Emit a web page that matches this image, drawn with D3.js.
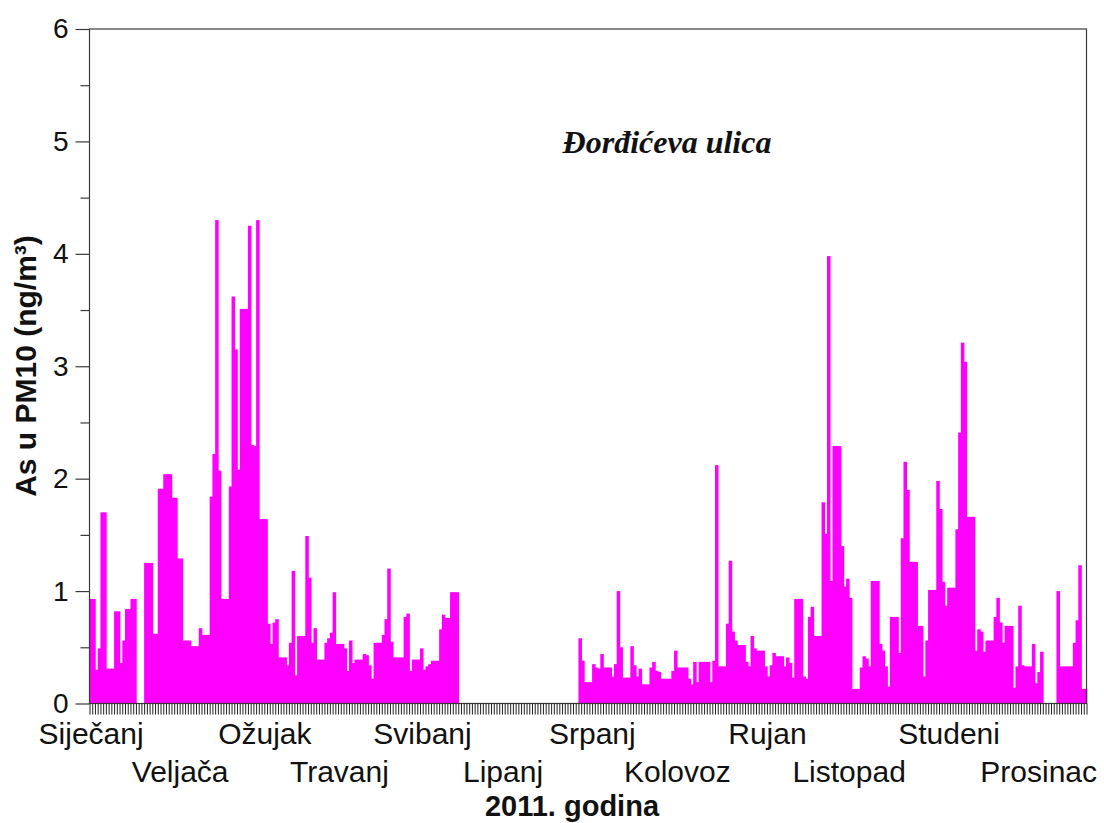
<!DOCTYPE html>
<html><head><meta charset="utf-8">
<script src="https://cdn.jsdelivr.net/npm/d3@7"></script>
<style>body{margin:0;background:#fff}svg{display:block}</style>
</head><body>
<svg id="chart" width="1104" height="823"></svg>
<script>
// Daily As in PM10 (ng/m3), 2011, day index 0..364
const values = [
0.93,0.93,0.30,0.49,1.70,1.70,0.31,0.31,0.31,0.82,
0.82,0.36,0.56,0.84,0.84,0.93,0.93,0,0,0,
1.25,1.25,1.25,0.62,0.62,1.91,1.91,2.04,2.04,2.04,
1.83,1.83,1.29,1.29,0.56,0.56,0.56,0.51,0.51,0.51,
0.67,0.61,0.61,0.61,1.84,2.22,4.30,2.07,0.93,0.93,
0.93,1.93,3.62,3.15,2.08,3.51,3.51,3.51,4.25,2.30,
2.29,4.30,1.64,1.64,1.64,0.71,0.53,0.72,0.75,0.41,
0.41,0.41,0.34,0.54,1.18,0.25,0.60,0.60,0.60,1.49,
1.12,0.54,0.67,0.39,0.39,0.39,0.54,0.58,0.63,0.99,
0.53,0.53,0.53,0.49,0.29,0.56,0.36,0.39,0.39,0.39,
0.44,0.43,0.34,0.22,0.54,0.54,0.54,0.61,0.75,1.20,
0.55,0.41,0.41,0.41,0.41,0.77,0.80,0.29,0.39,0.39,
0.39,0.49,0.30,0.33,0.35,0.38,0.38,0.38,0.66,0.79,
0.76,0.76,0.99,0.99,0.99,0,0,0,0,0,
0,0,0,0,0,0,0,0,0,0,
0,0,0,0,0,0,0,0,0,0,
0,0,0,0,0,0,0,0,0,0,
0,0,0,0,0,0,0,0,0,0.58,
0.38,0.19,0.19,0.19,0.35,0.32,0.31,0.44,0.32,0.32,
0.32,0.24,0.35,1.00,0.50,0.23,0.23,0.23,0.51,0.34,
0.24,0.31,0.17,0.17,0.17,0.32,0.37,0.29,0.28,0.22,
0.22,0.22,0.22,0.29,0.47,0.32,0.32,0.32,0.32,0.22,
0.17,0.37,0.19,0.37,0.37,0.37,0.37,0.19,0.38,2.12,
0.33,0.33,0.33,0.71,1.27,0.64,0.56,0.52,0.52,0.52,
0.37,0.33,0.60,0.49,0.47,0.47,0.47,0.33,0.24,0.34,
0.45,0.42,0.42,0.42,0.33,0.41,0.36,0.23,0.93,0.93,
0.93,0.24,0.22,0.77,0.86,0.60,0.60,0.60,1.79,1.51,
3.98,1.09,2.29,2.29,2.29,1.40,1.04,1.11,0.94,0.13,
0.13,0.13,0.32,0.42,0.40,0.33,1.09,1.09,1.09,0.53,
0.47,0.33,0.15,0.77,0.77,0.77,0.45,1.47,2.15,1.90,
1.26,1.26,1.26,0.69,0.69,0.24,0.56,1.01,1.01,1.01,
1.98,1.73,1.08,0.87,1.03,1.03,1.03,1.55,2.41,3.21,
3.04,1.66,1.66,1.66,0.47,0.66,0.64,0.46,0.56,0.56,
0.56,0.77,0.94,0.72,0.54,0.69,0.69,0.69,0.14,0.33,
0.87,0.34,0.33,0.33,0.33,0.53,0.18,0.28,0.46,0,
0,0,0,0,1.00,0.33,0.33,0.33,0.33,0.33,
0.54,0.74,1.23,0.13,0.13
];
const yTicks = [0,1,2,3,4,5,6];
const yMinorTicks = [0.5,1.5,2.5,3.5,4.5,5.5];
const monthLabels = ["Siječanj","Veljača","Ožujak","Travanj","Svibanj","Lipanj","Srpanj","Kolovoz","Rujan","Listopad","Studeni","Prosinac"];
const monthLabelDays = [0.6,33.2,64.2,91.5,121.9,151.4,184.1,215.2,248.2,278.1,314.7,347.5];
const chartTitle = "Đorđićeva ulica";
const yTitle = "As u PM10 (ng/m³)";
const xTitle = "2011. godina";

const box = {left:89.5, right:1086.5, top:29, bottom:703.5};
const svg = d3.select("#chart");
const nDays = values.length;
const x = d3.scaleLinear().domain([0, nDays]).range([box.left, box.right]);
const y = d3.scaleLinear().domain([0, 6]).range([box.bottom, box.top]);
const axisColor = "#3a3a3a";
const sans = "'Liberation Sans', Arial, sans-serif";

// bars
svg.append("g").selectAll("rect").data(values).join("rect")
  .attr("x", (d,i) => x(i))
  .attr("width", (d,i) => x(i+1) - x(i) + 0.8)
  .attr("y", d => y(d))
  .attr("height", d => y(0) - y(d))
  .attr("fill", "#ff00ff");

// frame
svg.append("rect")
  .attr("x", box.left).attr("y", box.top)
  .attr("width", box.right - box.left).attr("height", box.bottom - box.top)
  .attr("fill", "none").attr("stroke", axisColor).attr("stroke-width", 1.2);

// y axis major
const yAx = svg.append("g").attr("transform", `translate(${box.left},0)`)
  .call(d3.axisLeft(y).tickValues(yTicks).tickSize(14).tickPadding(7).tickFormat(d3.format("d")));
yAx.select(".domain").remove();
yAx.selectAll("line").attr("stroke", axisColor).attr("stroke-width", 1.2);
yAx.selectAll("text").attr("font-family", sans).attr("font-size", 28).attr("fill", "#111");

// y axis minor
const yMin = svg.append("g").attr("transform", `translate(${box.left},0)`)
  .call(d3.axisLeft(y).tickValues(yMinorTicks).tickSize(9).tickFormat(""));
yMin.select(".domain").remove();
yMin.selectAll("line").attr("stroke", axisColor).attr("stroke-width", 1.2);

// x axis daily ticks
const xAx = svg.append("g").attr("transform", `translate(0,${box.bottom})`)
  .call(d3.axisBottom(x).tickValues(d3.range(nDays + 1)).tickSize(11).tickFormat(""));
xAx.select(".domain").remove();
xAx.selectAll("line").attr("stroke", "#222").attr("stroke-width", 1);

// month labels (two staggered rows)
svg.append("g").selectAll("text").data(monthLabels).join("text")
  .attr("x", (d,i) => x(monthLabelDays[i]))
  .attr("y", (d,i) => i % 2 === 0 ? 743.5 : 781.5)
  .attr("text-anchor", "middle")
  .attr("font-family", sans).attr("font-size", 30).attr("fill", "#111")
  .text(d => d);

// axis titles
svg.append("text")
  .attr("x", 572).attr("y", 816)
  .attr("text-anchor", "middle")
  .attr("font-family", sans).attr("font-weight", "bold").attr("font-size", 29).attr("fill", "#111")
  .text(xTitle);

svg.append("text")
  .attr("transform", "translate(36,366) rotate(-90)")
  .attr("text-anchor", "middle")
  .attr("font-family", sans).attr("font-weight", "bold").attr("font-size", 30).attr("fill", "#111")
  .text(yTitle);

// in-plot title
svg.append("text")
  .attr("x", 667).attr("y", 153)
  .attr("text-anchor", "middle")
  .attr("font-family", "'Liberation Serif', 'Times New Roman', serif")
  .attr("font-weight", "bold").attr("font-style", "italic").attr("font-size", 32).attr("fill", "#111")
  .text(chartTitle);
</script>
</body></html>
